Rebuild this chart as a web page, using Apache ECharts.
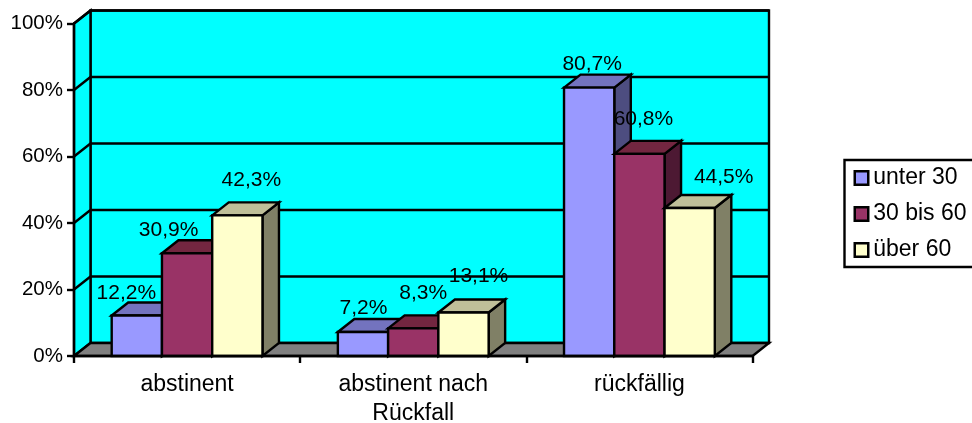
<!DOCTYPE html>
<html><head><meta charset="utf-8">
<style>html,body{margin:0;padding:0;background:#fff}#c{width:972px;height:423px}</style>
<script src="https://cdn.jsdelivr.net/npm/echarts@6/dist/echarts.min.js"></script>
</head><body><div id="c"></div>
<script>
const categories = ['abstinent', 'abstinent nach\nRückfall', 'rückfällig'];
const seriesNames = ['unter 30', '30 bis 60', 'über 60'];
const unter30 = [12.2, 7.2, 80.7];
const bis60 = [30.9, 8.3, 60.8];
const ueber60 = [42.3, 13.1, 44.5];
const yTicks = [0, 20, 40, 60, 80, 100];

const FONT = '"Liberation Sans", Arial, sans-serif';
const DX = 16.5, DY = -13;
const faces = [
  ['#9999FF', '#7373BF', '#4D4D80'],
  ['#993366', '#732640', '#4D1933'],
  ['#FFFFCC', '#BFBF99', '#808066']
];
const labelOffsets = [
  [[-10.5, -22], [0.4, -24], [3, -23]],
  [[-18.5, -23], [10, -35], [4, -35]],
  [[14, -35], [15, -36], [34, -31]]
];
const edge = { stroke: '#000', lineWidth: 2.4, lineJoin: 'miter' };

function wallItem(params, api) {
  const r = params.coordSys;
  const l = r.x, t = r.y, w = r.width, h = r.height, b = t + h, R = l + w;
  const y = api.coord([0, api.value(0)])[1];
  const children = [];
  if (params.dataIndex === 0) {
    children.push({ type: 'rect', shape: { x: l + DX, y: t + DY, width: w, height: h }, style: { fill: '#00FFFF', ...edge } });
    children.push({ type: 'polygon', shape: { points: [[l, t], [l + DX, t + DY], [l + DX, b + DY], [l, b]] }, style: { fill: '#00FFFF', ...edge } });
    children.push({ type: 'polygon', shape: { points: [[l, b], [l + DX, b + DY], [R + DX, b + DY], [R, b]] }, style: { fill: '#808080', ...edge } });
  }
  if (params.dataIndex > 0) {
    children.push({ type: 'polyline', shape: { points: [[l, y], [l + DX, y + DY], [R + DX, y + DY]] }, style: { fill: null, ...edge } });
  }
  return { type: 'group', children };
}

function barItem(sIdx) {
  return function (params, api) {
    const cat = api.value(0), val = api.value(1);
    const top = api.coord([cat, val]);
    const base = api.coord([cat, 0]);
    const bw = api.size([1, 0])[0] / 4.5;
    const x0 = top[0] + (sIdx - 1.5) * bw, x1 = x0 + bw;
    const yT = top[1], yB = base[1];
    const off = labelOffsets[sIdx][params.dataIndex];
    const f = faces[sIdx];
    return {
      type: 'group',
      children: [
        { type: 'polygon', shape: { points: [[x1, yT], [x1 + DX, yT + DY], [x1 + DX, yB + DY], [x1, yB]] }, style: { fill: f[2], ...edge } },
        { type: 'polygon', shape: { points: [[x0, yT], [x0 + DX, yT + DY], [x1 + DX, yT + DY], [x1, yT]] }, style: { fill: f[1], ...edge } },
        { type: 'rect', shape: { x: x0, y: yT, width: bw, height: yB - yT }, style: { fill: f[0], ...edge } },
        { type: 'text', z2: 100, x: x0 + bw / 2 + off[0], y: yT + off[1],
          style: { text: val.toFixed(1).replace('.', ',') + '%', fill: '#000', font: '21px ' + FONT, align: 'center', verticalAlign: 'middle' } }
      ]
    };
  };
}

const values = [unter30, bis60, ueber60];
const chart = echarts.init(document.getElementById('c'), null, { renderer: 'canvas' });
chart.setOption({
  animation: false,
  backgroundColor: '#fff',
  textStyle: { fontFamily: FONT },
  grid: { left: 74, top: 23.5, width: 678.5, height: 332.5, containLabel: false, outerBoundsMode: 'none' },
  legend: {
    orient: 'vertical', left: 844.5, top: 160, itemWidth: 13.5, itemHeight: 13.5, itemGap: 13,
    padding: [6.5, 14, 5.5, 9], backgroundColor: '#fff', borderColor: '#000', borderWidth: 2.4, borderRadius: 0,
    textStyle: { fontFamily: FONT, fontSize: 23, color: '#000' },
    data: seriesNames.map((n, i) => ({ name: n, icon: 'rect', itemStyle: { color: faces[i][0], borderColor: '#000', borderWidth: 2.5 } }))
  },
  xAxis: {
    type: 'category', data: categories, z: 5,
    axisLine: { lineStyle: { color: '#000', width: 2.4 } },
    axisTick: { show: true, alignWithLabel: false, length: 7, lineStyle: { color: '#000', width: 2.4 } },
    axisLabel: { interval: 0, color: '#000', fontSize: 23, fontFamily: FONT, margin: 14, lineHeight: 29 }
  },
  yAxis: {
    type: 'value', min: 0, max: 100, interval: 20, z: 5,
    splitLine: { show: false },
    axisLine: { show: true, lineStyle: { color: '#000', width: 2.4 } },
    axisTick: { show: true, length: 7, lineStyle: { color: '#000', width: 2.4 } },
    axisLabel: { color: '#000', fontSize: 20.5, fontFamily: FONT, margin: 11, formatter: '{value}%' }
  },
  series: [
    { type: 'custom', name: 'wand', z: 1, silent: true, renderItem: wallItem, encode: { y: 0 }, data: yTicks.map(v => [v]) },
    ...seriesNames.map((n, i) => ({
      type: 'custom', name: n, z: 2, itemStyle: { color: faces[i][0] }, renderItem: barItem(i),
      encode: { x: 0, y: 1 }, data: values[i].map((v, c) => [c, v])
    }))
  ]
});
</script></body></html>
